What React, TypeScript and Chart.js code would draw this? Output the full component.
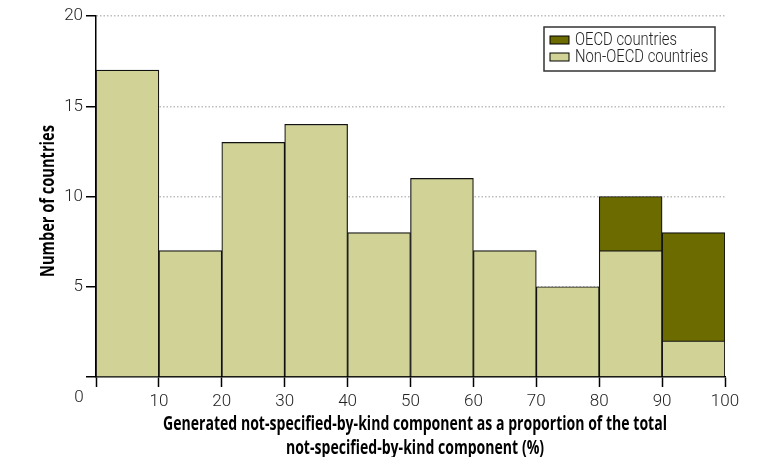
import React, { useEffect, useRef } from "react";
import { Chart, registerables } from "chart.js";

Chart.register(...registerables);

const binCenters = [5, 15, 25, 35, 45, 55, 65, 75, 85, 95];
const nonOecd = [17, 7, 13, 14, 8, 11, 7, 5, 7, 2];
const oecd: (number | null)[] = [null, null, null, null, null, null, null, null, 3, 6];
const xTickLabels = ["", "10", "20", "30", "40", "50", "60", "70", "80", "90", "100"];
const yTickLabels = ["", "5", "10", "15", "20"];
const seriesNames = ["OECD countries", "Non-OECD countries"];
const yTitle = "Number of countries";
const xTitle = [
  "Generated not-specified-by-kind component as a proportion of the total",
  "not-specified-by-kind component (%)",
];

const TICKFAMILY = 'Roboto, "DejaVu Sans Condensed", sans-serif';
const TITLEFAMILY = '"Open Sans", "DejaVu Sans Condensed", sans-serif';
const LIGHT = "#d0d296";
const DARK = "#6b6b00";

function fitText(ctx: any, text: string, x: number, y: number, sx: number) {
  ctx.save();
  ctx.translate(x, y);
  ctx.scale(sx, 1);
  ctx.fillText(text, 0, 0);
  ctx.restore();
}

const textPlugin = {
  id: "texts",
  afterDraw(chart: any) {
    const ctx = chart.ctx;
    const area = chart.chartArea;
    ctx.save();
    ctx.fillStyle = "#000";
    ctx.font = `bold 20px ${TITLEFAMILY}`;
    ctx.textAlign = "center";
    ctx.textBaseline = "middle";
    // x title, squeezed to the condensed width of the original
    const sxX = 504 / ctx.measureText(xTitle[0]).width;
    const cx = 407;
    fitText(ctx, xTitle[0], cx, 416, sxX);
    fitText(ctx, xTitle[1], cx, 440, sxX);
    // y title
    const syY = 152 / ctx.measureText(yTitle).width;
    ctx.save();
    ctx.translate(40, 193);
    ctx.rotate(-Math.PI / 2);
    fitText(ctx, yTitle, 0, 0, syY);
    ctx.restore();
    // origin label
    ctx.font = `300 17px ${TICKFAMILY}`;
    ctx.fillStyle = "#222";
    ctx.fillText("0", area.left - 17, area.bottom + 21);
    // legend
    const bx = 536, by = 19, bw = 171, bh = 44;
    ctx.fillStyle = "#fff";
    ctx.fillRect(bx, by, bw, bh);
    ctx.strokeStyle = "#333";
    ctx.lineWidth = 1.5;
    ctx.strokeRect(bx, by, bw, bh);
    const cols = [DARK, LIGHT];
    ctx.textAlign = "left";
    ctx.font = `300 18px ${TICKFAMILY}`;
    const sxL = 102 / ctx.measureText(seriesNames[0]).width;
    for (let i = 0; i < 2; i++) {
      const sy = by + 9 + i * 17;
      ctx.fillStyle = cols[i];
      ctx.fillRect(bx + 6, sy, 19, 8);
      ctx.strokeStyle = "#000";
      ctx.lineWidth = 1;
      ctx.strokeRect(bx + 6, sy, 19, 8);
      ctx.fillStyle = "#222";
      fitText(ctx, seriesNames[i], bx + 31, sy + 4, sxL);
    }
    ctx.restore();
  },
};

export default function App() {
  const ref = useRef<HTMLCanvasElement>(null);
  useEffect(() => {
    if (!ref.current) return;
    const chart = new Chart(ref.current, {
      type: "bar",
      data: {
        datasets: [
          {
            label: seriesNames[1],
            data: binCenters.map((x, i) => ({ x, y: nonOecd[i] })),
            backgroundColor: LIGHT,
            borderColor: "#111",
            borderWidth: 1.2,
            borderSkipped: "start",
            barPercentage: 1,
            categoryPercentage: 1,
          },
          {
            label: seriesNames[0],
            data: binCenters
              .map((x, i) => ({ x, y: oecd[i] }))
              .filter((d) => d.y !== null) as any,
            backgroundColor: DARK,
            borderColor: "#111",
            borderWidth: 1.2,
            borderSkipped: "start",
            barPercentage: 1,
            categoryPercentage: 1,
          },
        ],
      },
      options: {
        animation: false,
        responsive: true,
        maintainAspectRatio: false,
        layout: { padding: { left: 0, top: 8, right: 38, bottom: 0 } },
        plugins: { legend: { display: false }, tooltip: { enabled: false } },
        scales: {
          x: {
            type: "linear",
            stacked: true,
            offset: false,
            min: 0,
            max: 100,
            ticks: {
              stepSize: 10,
              color: "#222",
              font: { family: TICKFAMILY, size: 17, weight: "300" },
              padding: 5,
              maxRotation: 0,
              autoSkip: false,
              callback: (v: any, i: number) => xTickLabels[i] ?? "",
            },
            grid: {
              offset: false,
              drawOnChartArea: false,
              tickLength: 10,
              tickColor: "#000",
              tickWidth: 1.5,
            },
            border: { display: true, color: "#000", width: 1.5 },
            afterFit: (s: any) => {
              s.height = 80;
              s.paddingLeft = 0;
              s.paddingRight = 0;
            },
          } as any,
          y: {
            stacked: true,
            min: 0,
            max: 20,
            ticks: {
              stepSize: 5,
              color: "#222",
              font: { family: TICKFAMILY, size: 17, weight: "300" },
              padding: 3,
              callback: (v: any, i: number) => yTickLabels[i] ?? "",
            },
            grid: {
              color: (c: any) => (c.tick && c.tick.value === 0 ? "rgba(0,0,0,0)" : "#bdbdbd"),
              lineWidth: 1.5,
              tickLength: 10,
              tickColor: "#000",
              tickWidth: 1.5,
            },
            border: { display: true, color: "#000", width: 1.5, dash: [1.5, 2] },
            afterFit: (s: any) => {
              s.width = 88;
              s.paddingTop = 0;
              s.paddingBottom = 0;
            },
          } as any,
        },
      },
      plugins: [textPlugin],
    });
    return () => chart.destroy();
  }, []);
  return (
    <div style={{ width: 755, height: 449, position: "relative" }}>
      <canvas ref={ref} />
    </div>
  );
}
